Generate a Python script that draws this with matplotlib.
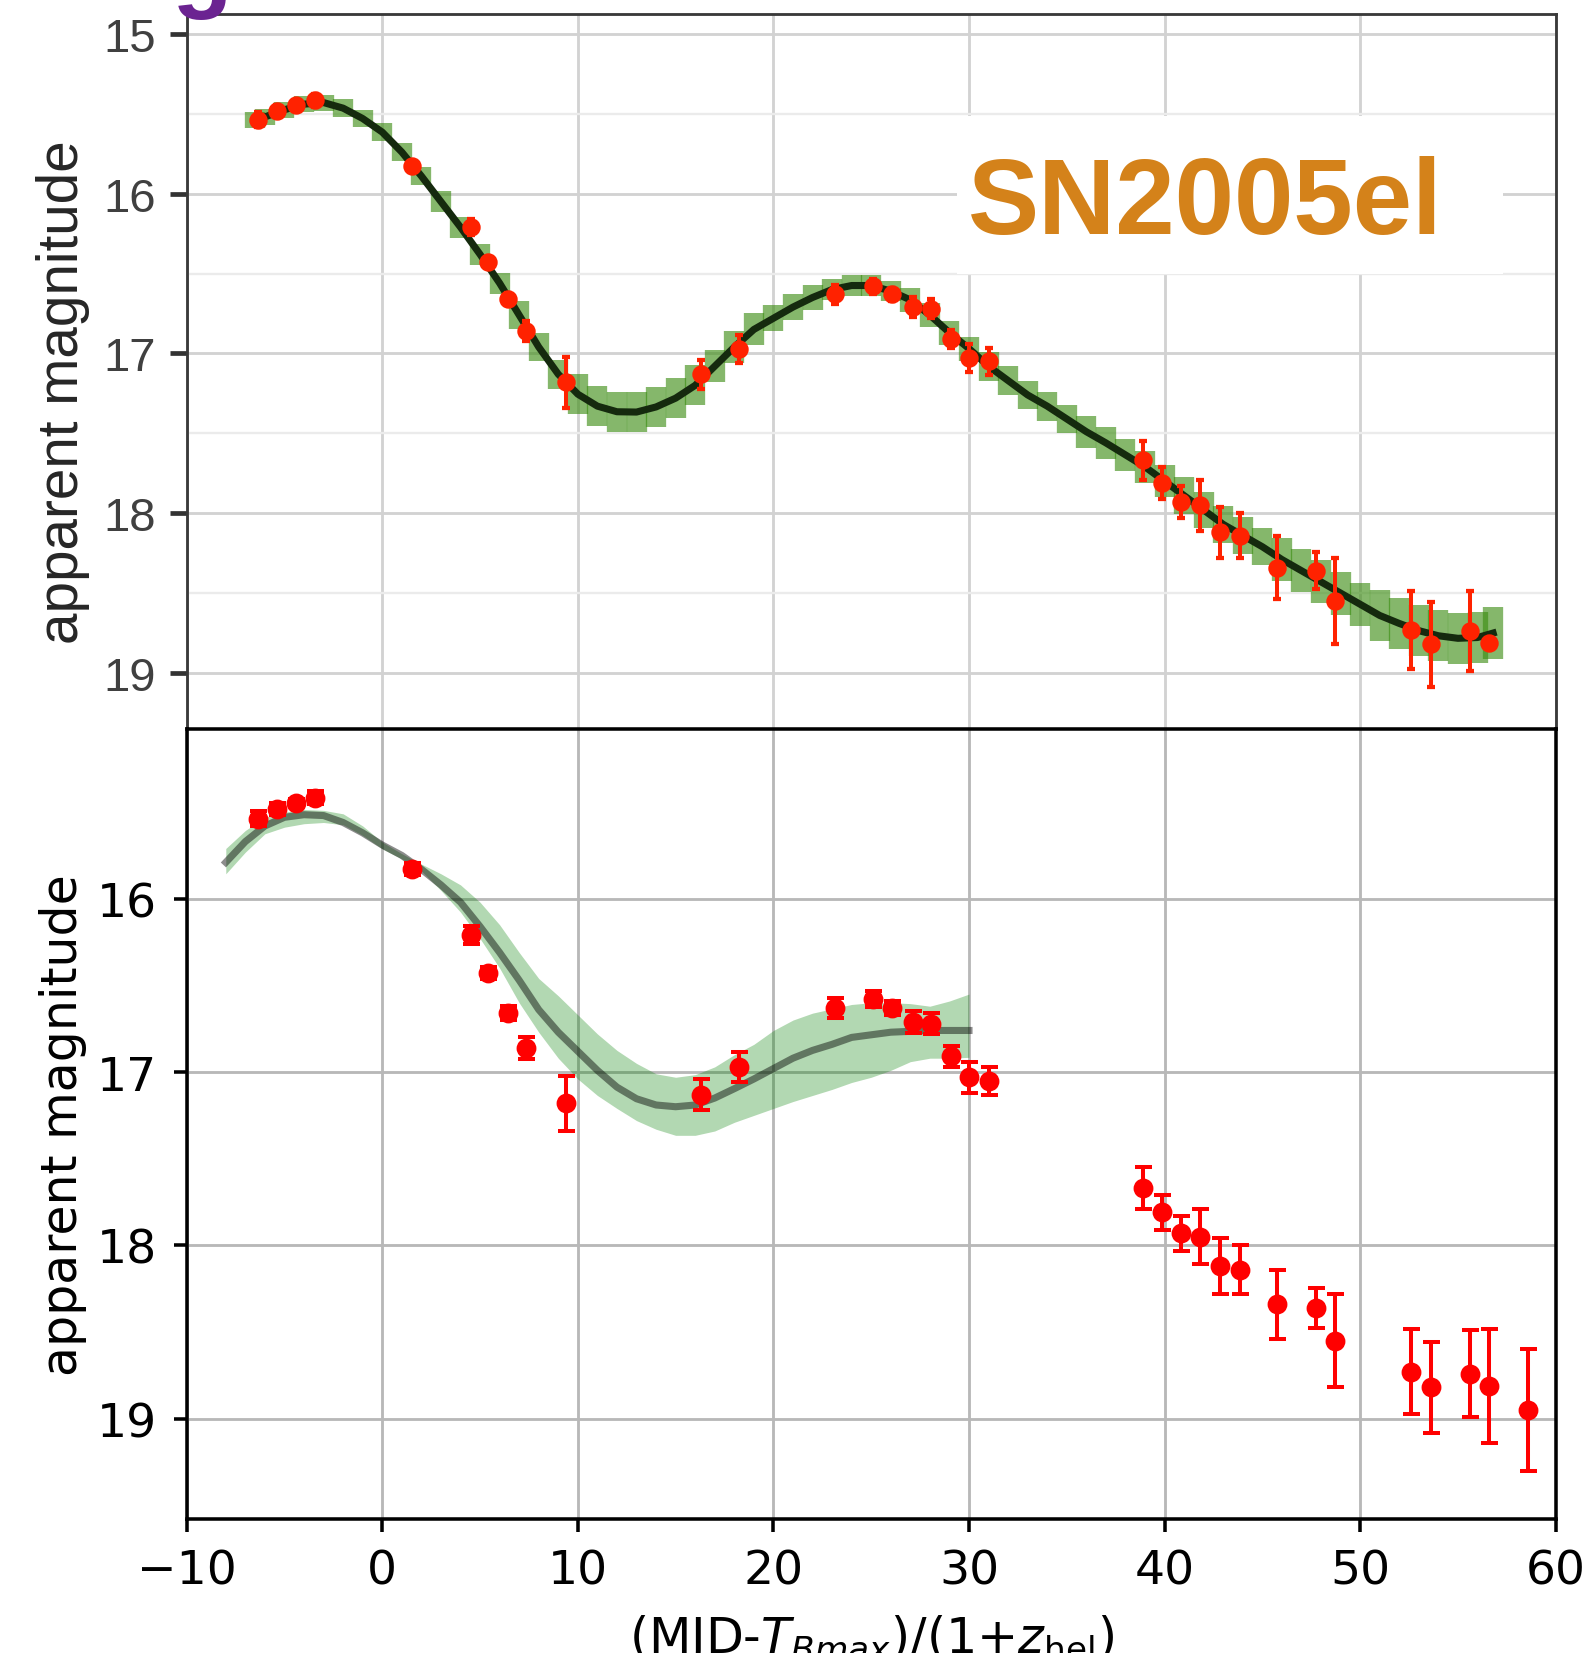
import matplotlib
matplotlib.use('Agg')
import matplotlib.pyplot as plt
from matplotlib.ticker import MultipleLocator
from matplotlib.patches import Rectangle

# observed photometry (rest-frame phase, apparent mag, 1-sigma error)
phase = [-6.36, -5.39, -4.42, -3.45, 1.51, 4.53, 5.39, 6.42, 7.33, 9.38,
         16.29, 18.23, 23.14, 25.08, 26.05, 27.13, 28.05, 29.07, 29.99, 31.01,
         38.89, 39.85, 40.82, 41.79, 42.82, 43.84, 45.73, 47.73, 48.70,
         52.58, 53.61, 55.60, 56.57, 58.57]
mag = [15.537, 15.483, 15.446, 15.416, 15.83, 16.21, 16.43, 16.66, 16.86, 17.18,
       17.13, 16.97, 16.63, 16.58, 16.63, 16.71, 16.72, 16.91, 17.03, 17.05,
       17.67, 17.81, 17.93, 17.95, 18.12, 18.14, 18.34, 18.36, 18.55,
       18.73, 18.82, 18.74, 18.81, 18.95]
mag_err = [0.045, 0.035, 0.02, 0.04, 0.035, 0.05, 0.035, 0.04, 0.065, 0.16,
           0.09, 0.087, 0.058, 0.045, 0.04, 0.065, 0.06, 0.058, 0.088, 0.082,
           0.12, 0.10, 0.10, 0.16, 0.16, 0.14, 0.20, 0.115, 0.27,
           0.245, 0.265, 0.25, 0.33, 0.35]

# template fit shown in the upper panel
fit_phase = [-6.5, -6, -5, -4, -3, -2, -1, 0, 1, 2, 3, 4, 5, 6, 7, 8, 9,
             10, 11, 12, 13, 14, 15, 16, 17, 18, 19, 20, 21, 22, 23, 24, 25,
             26, 27, 28, 29, 30, 31, 32, 33, 34, 35, 36, 37, 38, 39, 40, 41,
             42, 43, 44, 45, 46, 47, 48, 49, 50, 51, 52, 53, 54, 55, 56, 56.8]
fit_mag = [15.54, 15.52, 15.475, 15.44, 15.43, 15.465, 15.53, 15.615, 15.74,
           15.89, 16.05, 16.21, 16.38, 16.56, 16.76, 16.96, 17.13,
           17.255, 17.33, 17.365, 17.367, 17.335, 17.28, 17.20, 17.08, 16.96,
           16.85, 16.78, 16.71, 16.65, 16.60, 16.575, 16.575,
           16.61, 16.665, 16.76, 16.87, 16.97, 17.08, 17.17, 17.26, 17.33,
           17.41, 17.49, 17.56, 17.635, 17.71, 17.80, 17.89,
           17.98, 18.07, 18.14, 18.21, 18.29, 18.36, 18.43, 18.50, 18.57,
           18.64, 18.69, 18.735, 18.767, 18.783, 18.778, 18.75]
fit_err = [0.05, 0.05, 0.05, 0.05, 0.05, 0.055, 0.055, 0.055, 0.055, 0.055,
           0.065, 0.065, 0.065, 0.065, 0.09, 0.09, 0.09,
           0.125, 0.125, 0.125, 0.125, 0.125, 0.125, 0.125, 0.10, 0.10, 0.10,
           0.08, 0.08, 0.08, 0.065, 0.065, 0.065, 0.065,
           0.075, 0.075, 0.075, 0.075, 0.09, 0.09, 0.09, 0.09, 0.09,
           0.10, 0.10, 0.10, 0.10, 0.10, 0.115, 0.115, 0.115, 0.115, 0.115,
           0.135, 0.135, 0.135, 0.135, 0.135, 0.16, 0.16, 0.16, 0.16, 0.16,
           0.16, 0.16]

# model prediction in the lower panel (line plus bright/faint band edges)
model_phase = [-8, -7, -6, -5, -4, -3, -2, -1, 0, 1, 2, 3, 4, 5, 6, 7, 8, 9,
               10, 11, 12, 13, 14, 15, 16, 17, 18, 19, 20, 21, 22, 23, 24, 25,
               26, 27, 28, 29, 30]
model_mag = [15.79, 15.67, 15.58, 15.53, 15.515, 15.52, 15.56, 15.62, 15.69,
             15.75, 15.83, 15.92, 16.02, 16.16, 16.31, 16.47, 16.64, 16.77,
             16.88, 16.99, 17.087, 17.154, 17.19, 17.20, 17.19, 17.15, 17.096,
             17.04, 16.98, 16.92, 16.875, 16.84, 16.80, 16.785, 16.77, 16.765,
             16.76, 16.76, 16.76]
model_lo = [15.71, 15.606, 15.53, 15.50, 15.485, 15.49, 15.51, 15.58, 15.673,
            15.74, 15.80, 15.856, 15.92, 16.02, 16.15, 16.31, 16.46, 16.56,
            16.67, 16.78, 16.875, 16.95, 17.01, 17.03, 17.015, 16.97, 16.90,
            16.84, 16.76, 16.70, 16.66, 16.635, 16.61, 16.60, 16.60, 16.605,
            16.62, 16.59, 16.55]
model_hi = [15.856, 15.731, 15.625, 15.587, 15.567, 15.56, 15.573, 15.635,
            15.712, 15.77, 15.84, 15.952, 16.077, 16.23, 16.40, 16.60, 16.77,
            16.92, 17.04, 17.135, 17.21, 17.28, 17.33, 17.365, 17.365, 17.34,
            17.29, 17.25, 17.21, 17.17, 17.135, 17.10, 17.06, 17.03, 16.99,
            16.94, 16.92, 16.92, 16.915]

DPI = 340
fig = plt.figure(figsize=(1582 / DPI, 1654 / DPI), dpi=DPI)
ax1 = fig.add_axes([0.118, 0.5587, 0.8654, 0.4323])
ax2 = fig.add_axes([0.118, 0.0811, 0.8654, 0.4776])

# ---- upper panel (template fit) ----
arial = 'Liberation Sans'
ax1.errorbar(fit_phase, fit_mag, yerr=fit_err, fmt='none', ecolor='#3a8c10',
             elinewidth=4.3, alpha=0.62, zorder=2)
ax1.plot(fit_phase, fit_mag, color='#152a0e', lw=1.5, zorder=3)
ax1.errorbar(phase[:32], mag[:32], yerr=mag_err[:32], fmt='o', color='#ff2200',
             ms=2.9, elinewidth=0.85, capsize=0.9, capthick=0.9, zorder=4)
ax1.plot(phase[32], mag[32], 'o', color='#ff2200', ms=2.9, zorder=4)

ax1.set_xlim(-10, 60)
ax1.set_ylim(19.35, 14.875)
ax1.set_xticks(range(-10, 61, 10))
ax1.set_yticks([15, 16, 17, 18, 19])
ax1.yaxis.set_minor_locator(MultipleLocator(0.5))
ax1.tick_params(axis='x', length=0, labelbottom=False)
ax1.tick_params(axis='y', which='major', length=3.6, width=1.0, color='#333333',
                labelsize=10, labelcolor='#404040', labelfontfamily=arial, pad=3)
ax1.tick_params(axis='y', which='minor', length=0)
ax1.grid(which='major', color='#d2d2d2', lw=0.6)
ax1.grid(which='minor', axis='y', color='#ebebeb', lw=0.5)
ax1.set_axisbelow(True)
for sp in ax1.spines.values():
    sp.set_color('#3a3a3a')
    sp.set_linewidth(0.6)
ax1.set_ylabel('apparent magnitude', fontsize=12, family=arial, color='#262626')
ax1.yaxis.set_label_coords(-0.0704, 0.472)

ax1.add_patch(Rectangle((0.5627, 0.636), 0.3988, 0.221, transform=ax1.transAxes,
                        facecolor='white', edgecolor='none', zorder=1))
ax1.text(0.7438, 0.6935, 'SN2005el', transform=ax1.transAxes, ha='center',
         va='baseline', fontsize=22.6, fontweight='bold', color='#d4821a',
         family=arial, zorder=5)

# ---- lower panel (model prediction) ----
ax2.fill_between(model_phase, model_lo, model_hi, color='green', alpha=0.3, lw=0)
ax2.plot(model_phase, model_mag, color='k', alpha=0.45, lw=1.5)
ax2.errorbar(phase, mag, yerr=mag_err, fmt='o', color='red', ms=3.2,
             elinewidth=0.85, capsize=1.8, capthick=0.85)

ax2.set_xlim(-10, 60)
ax2.set_ylim(19.578, 15.02)
ax2.set_xticks(range(-10, 61, 10))
ax2.set_yticks([16, 17, 18, 19])
ax2.tick_params(length=2.8, width=0.75)
ax2.grid(True, color='#b8b8b8', lw=0.6)
ax2.set_axisbelow(True)
for sp in ax2.spines.values():
    sp.set_linewidth(0.75)
ax2.set_ylabel('apparent magnitude', fontsize=10.35)
ax2.yaxis.set_label_coords(-0.0725, 0.5)
ax2.set_xlabel(r'(MJD-$T_{Bmax}$)/(1+$z_{\rm hel}$)', fontsize=10.4)

# panel letter, mostly cut off at the top edge
fig.text(172 / 1582, 1.0, 'g', ha='left', va='baseline', fontsize=21,
         fontweight='bold', color='#6b2391', family=arial)

fig.savefig('out.png', dpi=DPI)
